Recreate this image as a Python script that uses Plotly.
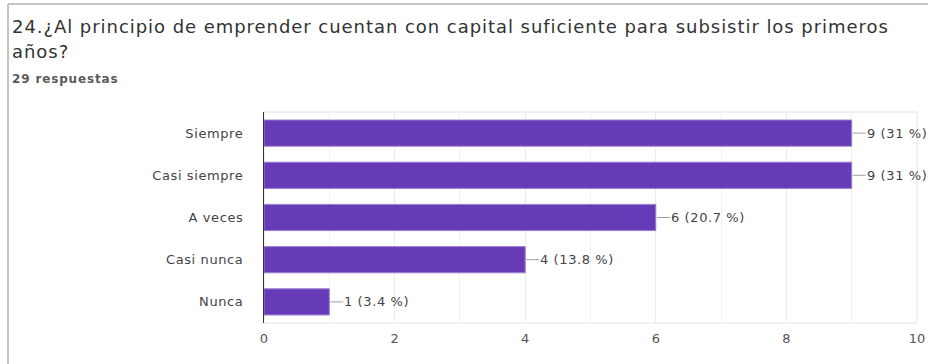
import plotly.graph_objects as go

# Survey answers and their counts
categories = ["Siempre", "Casi siempre", "A veces", "Casi nunca", "Nunca"]
counts = [9, 9, 6, 4, 1]
total_responses = 29
x_ticks = [0, 2, 4, 6, 8, 10]

title_line1 = "24.¿Al principio de emprender cuentan con capital suficiente para subsistir los primeros"
title_line2 = "años?"
subtitle = f"{total_responses} respuestas"

FONT = "DejaVu Sans"
PURPLE = "#673ab7"


def spaced(text, px):
    """Wrap text in a span with extra letter spacing."""
    return f'<span style="letter-spacing:{px}px">{text}</span>'


labels = [f"{v} ({round(v / total_responses * 100, 1):g} %)" for v in counts]

fig = go.Figure(
    go.Bar(
        x=counts,
        y=categories,
        orientation="h",
        marker=dict(color=PURPLE, line=dict(color="#9a7fd0", width=1)),
        hoverinfo="skip",
    )
)

# leader lines and value labels to the right of each bar
for cat, v, lab in zip(categories, counts, labels):
    fig.add_shape(
        type="line", xref="x", yref="y", xsizemode="pixel", xanchor=v,
        x0=1, x1=14, y0=cat, y1=cat,
        line=dict(color="#9e9e9e", width=1),
    )
    fig.add_annotation(
        x=v, y=cat, text=spaced(lab, 0.6), showarrow=False, xanchor="left", xshift=13,
        font=dict(family=FONT, size=13, color="#444444"),
    )

# light frame around the plotting area
fig.add_shape(
    type="rect", xref="paper", yref="paper", x0=0, x1=1, y0=0, y1=1,
    line=dict(color="#e4e4e4", width=1), layer="below",
)

# card border (top and left edges)
fig.add_shape(type="line", xref="paper", yref="paper", x0=-0.392, x1=1.1,
              y0=1.512, y1=1.512, line=dict(color="#c4c4c4", width=2))
fig.add_shape(type="line", xref="paper", yref="paper", x0=-0.392, x1=-0.392,
              y0=1.512, y1=-0.2, line=dict(color="#c4c4c4", width=2))

# heading texts
fig.add_annotation(xref="paper", yref="paper", x=-0.389, y=1.406,
                   text=spaced(title_line1, 0.95),
                   showarrow=False, xanchor="left", yanchor="middle",
                   font=dict(family=FONT, size=18, color="#333333"))
fig.add_annotation(xref="paper", yref="paper", x=-0.389, y=1.286,
                   text=spaced(title_line2, 0.95),
                   showarrow=False, xanchor="left", yanchor="middle",
                   font=dict(family=FONT, size=18, color="#333333"))
fig.add_annotation(xref="paper", yref="paper", x=-0.389, y=1.158,
                   text=spaced(f"<b>{subtitle}</b>", 0.85),
                   showarrow=False, xanchor="left", yanchor="middle",
                   font=dict(family=FONT, size=12, color="#5a5a5a"))

fig.update_layout(
    width=928, height=364,
    margin=dict(l=264, r=11, t=112, b=41),
    paper_bgcolor="white", plot_bgcolor="white",
    bargap=0.38,
    showlegend=False,
    font=dict(family=FONT, size=13, color="#444444"),
)
fig.update_xaxes(
    range=[0, 10], tickvals=x_ticks, ticktext=[str(t) for t in x_ticks],
    showgrid=True, gridcolor="#ebebeb", gridwidth=1,
    minor=dict(dtick=1, showgrid=True, gridcolor="#f1f1f1"),
    zeroline=False, showline=False, ticks="", automargin=False,
    ticklabelstandoff=6,
    tickfont=dict(family=FONT, size=13, color="#555555"),
)
fig.update_yaxes(
    categoryorder="array", categoryarray=categories, range=[4.5, -0.5],
    tickvals=categories, ticktext=[spaced(c, 0.6) for c in categories],
    showline=True, linecolor="#333333", linewidth=1,
    showgrid=False, ticks="", ticklabelstandoff=17, automargin=False,
    tickfont=dict(family=FONT, size=13, color="#444444"),
)

fig.write_html("out.html")
